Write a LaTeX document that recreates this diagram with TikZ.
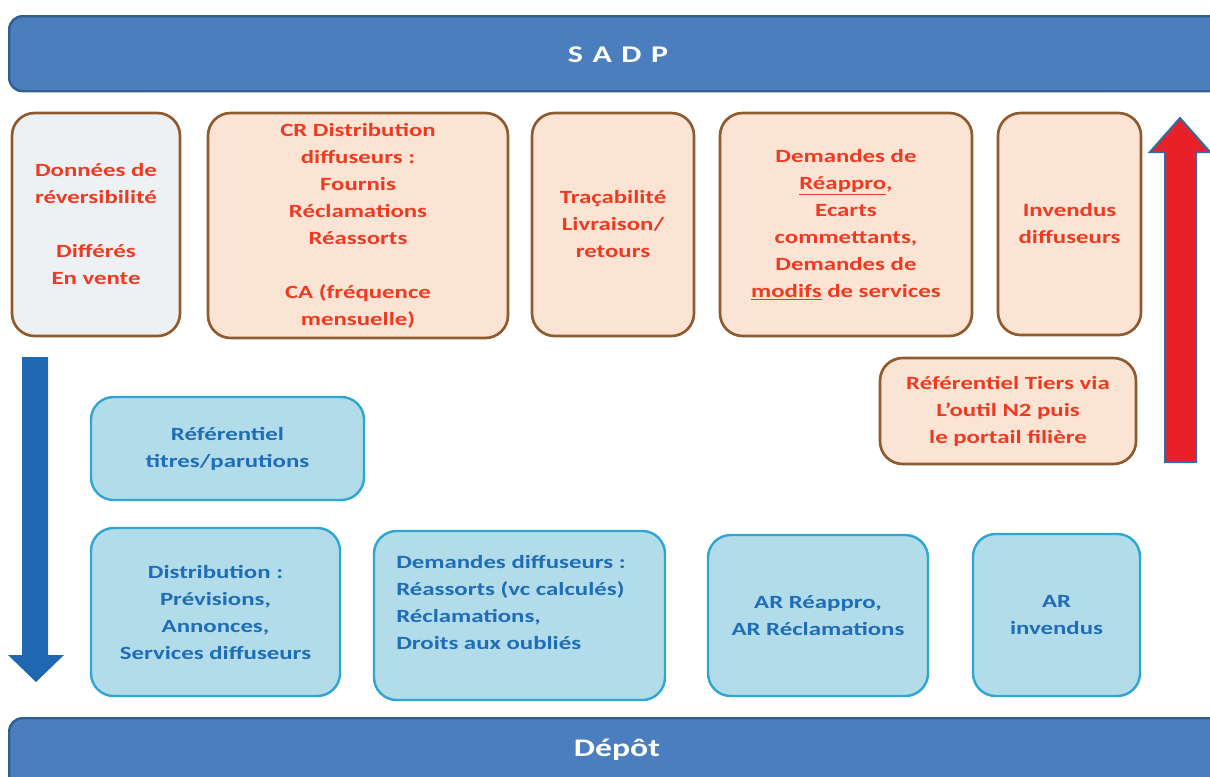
\documentclass[tikz,border=0pt]{standalone}
\usepackage{fontspec}
\setmainfont{Carlito}[FakeStretch=1.33]
\definecolor{barblue}{HTML}{4A7EBE}
\definecolor{barborder}{HTML}{2F5F8F}
\definecolor{peach}{HTML}{FCE4D4}
\definecolor{greyfill}{HTML}{EEF1F4}
\definecolor{brownline}{HTML}{8E5A2E}
\definecolor{redtext}{HTML}{EE3A22}
\definecolor{lightblue}{HTML}{B3DCEA}
\definecolor{cyanline}{HTML}{2DA6D0}
\definecolor{bluetext}{HTML}{1E6DB6}
\definecolor{arrowblue}{HTML}{1F67B1}
\definecolor{arrowred}{HTML}{E8202A}
\definecolor{arrowedge}{HTML}{2E6DA4}
\newcommand{\px}{0.75pt}
\begin{document}
\begin{tikzpicture}[x=0.75pt,y=-0.75pt,
  bar/.style={draw=barborder, fill=barblue, line width=1.8pt, rounded corners=10pt, text=white, font=\bfseries\fontsize{18}{22}\selectfont, inner sep=0pt},
  redbox/.style={draw=brownline, fill=peach, line width=2pt, rounded corners=17pt, align=center, text=redtext, font=\bfseries\fontsize{14}{20.25}\selectfont, inner sep=0pt},
  bluebox/.style={draw=cyanline, fill=lightblue, line width=1.8pt, rounded corners=17pt, align=center, text=bluetext, font=\bfseries\fontsize{14}{20.25}\selectfont, inner sep=0pt},
  bluetxt/.style={align=left, text=bluetext, font=\bfseries\fontsize{14}{20.25}\selectfont, inner sep=0pt}
]
\useasboundingbox (0,0) rectangle (1210,776);
\clip (0,0) rectangle (1210,776);

% bars
\node[bar, anchor=north west, minimum width=1222*\px, minimum height=75*\px] (sadp) at (8,15) {};
\node[text=white, font=\bfseries\fontsize{18}{22}\selectfont] (sadptxt) at (618,55) {S\hspace{0.4em}A\hspace{0.4em}D\hspace{0.4em}P};
\node[bar, anchor=north west, minimum width=1222*\px, minimum height=75*\px] (depot) at (8,717) {};
\node[text=white, font=\bfseries\fontsize{19}{22}\selectfont] (depottxt) at (617,750) {Dépôt};

% top row (red)
\node[redbox, fill=greyfill, minimum width=168*\px, minimum height=223*\px] (rev) at (96,224.5)
  {Données de\\réversibilité\\~\\Différés\\En vente};
\node[redbox, minimum width=300*\px, minimum height=225*\px] (crd) at (358,225.5)
  {CR Distribution\\diffuseurs :\\Fournis\\Réclamations\\Réassorts\\~\\CA (fréquence\\mensuelle)};
\node[redbox, minimum width=162*\px, minimum height=223*\px] (trac) at (613,224.5)
  {Traçabilité\\Livraison/\\retours};
\node[redbox, minimum width=252*\px, minimum height=223*\px] (dem) at (846,224.5)
  {Demandes de\\\underline{Réappro},\\Ecarts\\commettants,\\Demandes de\\\underline{modifs} de services};
\node[redbox, minimum width=143*\px, minimum height=222*\px] (inv) at (1069.5,224)
  {Invendus\\diffuseurs};
\node[redbox, minimum width=256*\px, minimum height=106*\px] (tiers) at (1008,411)
  {Référentiel Tiers via\\L’outil N2 puis\\le portail filière};

% blue boxes
\node[bluebox, minimum width=273*\px, minimum height=103*\px] (titres) at (227.5,448.5)
  {Référentiel\\titres/parutions};
\node[bluebox, minimum width=249*\px, minimum height=168*\px] (distr) at (215.5,612)
  {Distribution :\\Prévisions,\\Annonces,\\Services diffuseurs};
\node[bluebox, minimum width=291*\px, minimum height=169*\px] (demdif) at (519.5,615.5) {};
\node[bluetxt, anchor=west] (demdiftxt) at (396,602)
  {Demandes diffuseurs :\\Réassorts (vc calculés)\\Réclamations,\\Droits aux oubliés};
\node[bluebox, minimum width=220*\px, minimum height=161*\px] (arre) at (818,615.5)
  {AR Réappro,\\AR Réclamations};
\node[bluebox, minimum width=167*\px, minimum height=162*\px] (arinv) at (1056.5,615)
  {AR\\invendus};

% arrows
\draw[fill=arrowred, draw=arrowedge, line width=1.5pt, line join=miter]
  (1165,462) -- (1165,152) -- (1150,152) -- (1180,118) -- (1210,152) -- (1196,152) -- (1196,462) -- cycle;
\fill[arrowblue]
  (22,357) -- (48,357) -- (48,655) -- (64,655) -- (36,682) -- (8,655) -- (22,655) -- cycle;
\end{tikzpicture}
\end{document}
